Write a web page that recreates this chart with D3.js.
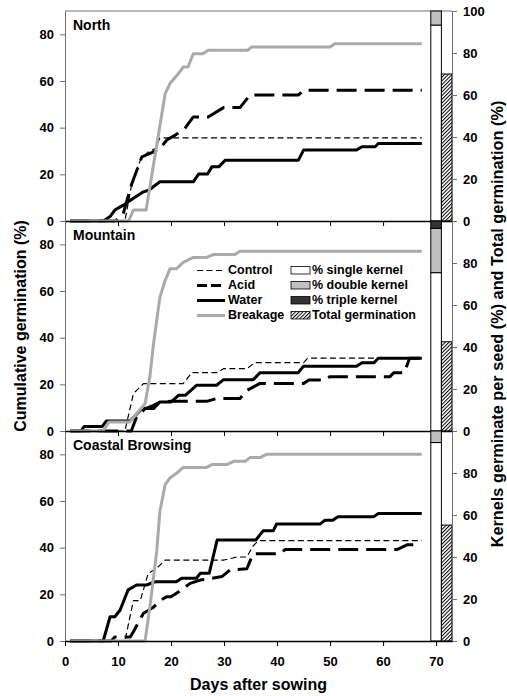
<!DOCTYPE html>
<html>
<head>
<meta charset="utf-8">
<script src="https://cdn.jsdelivr.net/npm/d3@7/dist/d3.min.js"></script>
<style>
  body { margin: 0; background: #fff; }
  text { font-family: "Liberation Sans", Arial, sans-serif; font-weight: bold; }
</style>
</head>
<body>
<div id="chart"></div>
<script>
  // DATA  ([day, cumulative germination %])
  var sites = ['North', 'Mountain', 'Coastal Browsing'];
  var treatments = ['Control', 'Acid', 'Water', 'Breakage'];

  var northControl = [[1,0],[11.3,0],[12.6,16],[14.2,26],[15.7,29.6],[17,31],[17.9,35.6],[67.3,35.6]];
  var northAcid = [[1,0],[9.5,0],[11,3.3],[12.6,16],[14.5,27.5],[16.7,29.6],[17.9,31],[19.2,34.7],[20.8,36.8],[22.6,39.6],[24.2,44.6],[27,44.6],[29.9,48.6],[33,48.6],[34.9,54],[44,54],[45,56],[67.3,56]];
  var northWater = [[1,0],[7.2,0],[8.5,1.9],[9.4,4.7],[11,6.8],[12.9,9.7],[14.8,12.5],[15.8,13.2],[17.9,16.8],[24.2,16.8],[25.2,20.1],[26.9,20.1],[27.7,23.2],[29,23.2],[30.2,26],[44,26],[45,30.4],[55,30.4],[56,31.8],[58.5,31.8],[59.1,33.2],[67.3,33.2]];
  var northBreakage = [[1,0],[12,0],[12.9,4.7],[15.3,4.7],[18.9,54.6],[19.8,58.9],[21.4,63.2],[22.3,66],[23.2,66],[24.2,71.7],[26,71.7],[27,73.2],[34.5,73.2],[35.2,74.6],[50,74.6],[50.9,76],[67.3,76]];

  var mountainControl = [[1,0],[11.3,0],[12.9,16],[14.8,20.3],[22.3,20.3],[23.9,25],[28.6,25],[29.9,26.7],[34.3,26.7],[35.8,29.3],[45,29.3],[45.8,31.2],[67.3,31.2]];
  var mountainAcid = [[1,0],[12.5,0],[13.5,6],[15.1,9.6],[16.7,11],[17.9,12.4],[20,12.7],[26.7,12.7],[28.6,13.9],[33,13.9],[34.3,17.4],[36.8,20.4],[45,20.4],[46,21.9],[49,21.9],[50,23.3],[61.3,23.3],[62,25],[64,25],[65,31.2],[67.3,31.2]];
  var mountainWater = [[1,0],[3,0],[3.6,1.9],[7,1.9],[7.8,4.3],[12.3,4.3],[14.5,9.6],[16.7,9.6],[17.9,12.4],[20,12.4],[21.4,15.3],[22.7,15.3],[24.8,19.6],[28.6,19.6],[29.9,22],[35.5,22],[36.8,25],[44,25],[45,27.8],[55,27.8],[56,29.3],[58.3,29.3],[59.1,31.2],[67.3,31.2]];
  var mountainBreakage = [[1,0],[7.2,0],[8.3,3.9],[12.3,3.9],[13.5,7.4],[15.1,11.7],[16,23.1],[16.7,37.4],[17.3,47.4],[17.9,57.3],[18.9,64.5],[19.8,69.5],[21,69.5],[22.3,72.3],[24.2,74.4],[26.7,74.4],[28,75.6],[32,75.6],[33,77],[67.3,77]];

  var coastalControl = [[1,0],[11.3,0],[12.9,17.3],[14.2,17.3],[15.7,29],[17.3,31.2],[18.9,34.7],[30,34.7],[32.4,36],[34.3,36],[35.5,40.8],[36.5,43],[67.3,43]];
  var coastalAcid = [[1,0],[8.7,0],[9.4,1.7],[12.3,1.7],[12.9,4],[14.8,11.9],[16.7,14.5],[17.9,17.3],[19.2,19],[20,19],[22,21.9],[23.6,24.7],[25.5,26.1],[29.6,27.6],[31.1,30.4],[34.3,31],[35.5,37.4],[40.6,37.4],[41.5,39.2],[62.6,39.2],[64.5,41.2],[66.4,41.2]];
  var coastalWater = [[1,0],[7.2,0],[8.5,10.4],[9.4,10.4],[10.4,13.3],[11.9,21.9],[13.5,24],[15.4,24],[17,25.4],[21,25.4],[22,26.9],[24.8,26.9],[25.5,29],[27.2,29],[28.7,43.3],[36,43.3],[37.4,47.3],[39.3,47.3],[39.9,50.1],[48.1,50.1],[49,51.7],[50.5,51.7],[51.5,53.2],[58.2,53.2],[59.1,54.6],[67.3,54.6]];
  var coastalBreakage = [[1,0],[15.1,0],[16,14.3],[17.3,38.5],[17.9,55.6],[18.9,67],[19.8,69.9],[21.1,72],[22.3,74.4],[26.7,74.4],[27.7,75.6],[30.5,75.6],[31.8,77],[34,77],[34.9,78.6],[36.8,78.6],[38,80],[67.3,80]];

  // kernels germinating per seed (%) and total germination (%)
  var singleKernel = [93.3, 75.4, 94.5];
  var doubleKernel = [6.7, 21.1, 5.5];
  var tripleKernel = [0, 3.5, 0];
  var totalGermination = [70, 42.5, 55.2];

  var xTicks = [0, 10, 20, 30, 40, 50, 60, 70];
  var leftTicks = [0, 20, 40, 60, 80];
  var rightTicks = [0, 20, 40, 60, 80, 100];

  var kernelLabels = ['% single kernel', '% double kernel', '% triple kernel', 'Total germination'];

  // build panel table
  var panels = [
    {name: sites[0], series: [northControl, northAcid, northWater, northBreakage]},
    {name: sites[1], series: [mountainControl, mountainAcid, mountainWater, mountainBreakage]},
    {name: sites[2], series: [coastalControl, coastalAcid, coastalWater, coastalBreakage]}
  ];

  var lineStyle = {
    'Control':  {stroke: '#000', width: 1.2, dash: '6,3.5'},
    'Acid':     {stroke: '#000', width: 3, dash: '20,8'},
    'Water':    {stroke: '#000', width: 3, dash: null},
    'Breakage': {stroke: '#aaa', width: 3, dash: null}
  };
  var kernelFill = ['#fff', '#c0c0c0', '#333'];
  var frameGrey = '#707070';

  // SVG AND D3 STUFF
  var W = 507, H = 696;
  var left = 65, right = 452, top0 = 11, panelH = 210;

  var svg = d3.select('#chart')
    .append('svg')
    .attr('width', W)
    .attr('height', H);

  // hatch for total germination
  svg.append('defs')
    .append('pattern')
    .attr('id', 'hatch')
    .attr('patternUnits', 'userSpaceOnUse')
    .attr('width', 2.6)
    .attr('height', 2.6)
    .attr('patternTransform', 'rotate(45)')
    .call(function(p) {
      p.append('rect').attr('width', 2.6).attr('height', 2.6).attr('fill', '#fff');
      p.append('line').attr('x1', 0.5).attr('y1', 0).attr('x2', 0.5).attr('y2', 2.6)
        .attr('stroke', '#000').attr('stroke-width', 1);
    });

  var xScale = d3.scaleLinear().domain([0, 73]).range([left, right]);

  // top frame line
  svg.append('line')
    .attr('x1', left).attr('x2', right)
    .attr('y1', top0).attr('y2', top0)
    .attr('stroke', frameGrey);

  panels.forEach(function(p, i) {
    var y0 = top0 + i * panelH;
    var yScale = d3.scaleLinear().domain([0, 90]).range([y0 + panelH, y0]);
    var yRight = d3.scaleLinear().domain([0, 100]).range([y0 + panelH, y0]);
    var g = svg.append('g').classed('panel', true);

    // Render lines
    var line = d3.line()
      .x(function(d) { return xScale(d[0]); })
      .y(function(d) { return yScale(d[1]); });

    g.selectAll('path.series')
      .data(p.series)
      .enter()
      .append('path')
      .classed('series', true)
      .attr('d', line)
      .attr('fill', 'none')
      .attr('stroke', function(d, j) { return lineStyle[treatments[j]].stroke; })
      .attr('stroke-width', function(d, j) { return lineStyle[treatments[j]].width; })
      .attr('stroke-dasharray', function(d, j) { return lineStyle[treatments[j]].dash; })
      .attr('stroke-linejoin', 'round');

    // stacked kernel bar
    var parts = [singleKernel[i], doubleKernel[i], tripleKernel[i]];
    var stack = [], acc = 0;
    parts.forEach(function(v, j) { stack.push({lo: acc, hi: acc + v, fill: kernelFill[j]}); acc += v; });

    g.selectAll('rect.kernel')
      .data(stack.filter(function(d) { return d.hi > d.lo; }))
      .enter()
      .append('rect')
      .classed('kernel', true)
      .attr('x', xScale(69))
      .attr('width', xScale(71) - xScale(69))
      .attr('y', function(d) { return yRight(d.hi); })
      .attr('height', function(d) { return yRight(d.lo) - yRight(d.hi); })
      .attr('fill', function(d) { return d.fill; })
      .attr('stroke', '#000')
      .attr('stroke-width', 1);

    // total germination bar
    g.append('rect')
      .attr('x', xScale(71))
      .attr('width', xScale(73) - xScale(71))
      .attr('y', yRight(totalGermination[i]))
      .attr('height', yRight(0) - yRight(totalGermination[i]))
      .attr('fill', 'url(#hatch)')
      .attr('stroke', '#000')
      .attr('stroke-width', 1);

    // Render axes
    var yAxis = g.append('g')
      .attr('transform', 'translate(' + left + ',0)')
      .call(d3.axisLeft(yScale).tickValues(leftTicks).tickSize(5).tickPadding(6).tickSizeOuter(0));

    var yAxisR = g.append('g')
      .attr('transform', 'translate(' + right + ',0)')
      .call(d3.axisRight(yRight).tickValues(i == 0 ? rightTicks : rightTicks.slice(0, 5))
        .tickSize(5).tickPadding(6).tickSizeOuter(0));

    var xAxis = d3.axisBottom(xScale).tickValues(xTicks).tickSize(5).tickPadding(11).tickSizeOuter(0);
    if (i < 2) xAxis.tickFormat('');
    var xg = g.append('g')
      .attr('transform', 'translate(0,' + (y0 + panelH) + ')')
      .call(xAxis);

    [yAxis, yAxisR].forEach(function(a) {
      a.select('.domain').attr('stroke', frameGrey);
      a.selectAll('.tick line').attr('stroke', frameGrey);
    });
    xg.select('.domain').attr('stroke', '#000').attr('stroke-width', 1.3);
    g.selectAll('.tick text')
      .attr('font-size', 13)
      .attr('font-family', '"Liberation Sans", Arial, sans-serif')
      .attr('font-weight', 'bold')
      .attr('fill', '#000');

    // panel label
    g.append('text')
      .attr('x', left + 8)
      .attr('y', y0 + 18.5)
      .attr('font-size', 14)
      .text(p.name);

    // Legend (middle panel)
    if (i == 1) {
      var ly = y0 + 53;
      var leg = g.append('g').classed('legend', true);
      treatments.forEach(function(t, j) {
        var s = lineStyle[t];
        leg.append('line')
          .attr('x1', 197).attr('x2', 225)
          .attr('y1', ly + j * 15 - 3.5).attr('y2', ly + j * 15 - 3.5)
          .attr('stroke', s.stroke)
          .attr('stroke-width', s.width)
          .attr('stroke-dasharray', t == 'Acid' ? '10,4' : s.dash);
        leg.append('text')
          .attr('x', 228).attr('y', ly + j * 15)
          .attr('font-size', 12.5)
          .text(t);
      });
      kernelLabels.forEach(function(k, j) {
        leg.append('rect')
          .attr('x', 291).attr('y', ly + j * 15 - 7.5)
          .attr('width', 19).attr('height', 7.5)
          .attr('fill', j < 3 ? kernelFill[j] : 'url(#hatch)')
          .attr('stroke', '#000')
          .attr('stroke-width', 0.8);
        leg.append('text')
          .attr('x', 312).attr('y', ly + j * 15)
          .attr('font-size', 12.5)
          .text(k);
      });
    }
  });

  // Axis labels
  svg.append('text')
    .attr('x', (left + right) / 2)
    .attr('y', 690)
    .attr('text-anchor', 'middle')
    .attr('font-size', 16)
    .text('Days after sowing');

  svg.append('text')
    .attr('transform', 'translate(26,326)rotate(-90)')
    .attr('text-anchor', 'middle')
    .attr('font-size', 16)
    .text('Cumulative germination (%)');

  svg.append('text')
    .attr('transform', 'translate(503,324)rotate(-90)')
    .attr('text-anchor', 'middle')
    .attr('font-size', 16.3)
    .text('Kernels germinate per seed (%) and Total germination (%)');
</script>
</body>
</html>
